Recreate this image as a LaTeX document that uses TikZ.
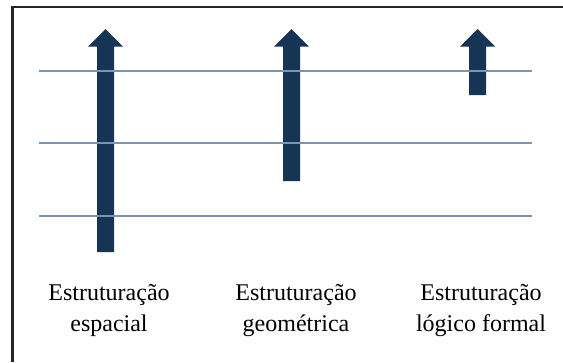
\documentclass[tikz,border=0pt]{standalone}
\usepackage{fontspec}
\setmainfont{Liberation Serif}
\usepackage{tikz}
\usetikzlibrary{positioning}

\definecolor{arrowblue}{RGB}{22,52,84}
\definecolor{lineblue}{RGB}{118,150,182}

\tikzset{
  bigarrow/.style={fill=arrowblue},
  levelline/.style={draw=lineblue,line width=2pt},
  frameline/.style={draw=black!85,line width=2.2pt},
  caption/.style={align=center,font=\fontsize{24}{31}\selectfont,anchor=base,inner sep=0pt}
}

\begin{document}
\begin{tikzpicture}[x=1pt,y=-1pt]
  \useasboundingbox (0,0) rectangle (563,362);

  % Frame (top and left only)
  \draw[frameline] (12.5,362) -- (12.5,7) -- (563,7);

  % Block arrows: centre x / bottom y
  \foreach \cx/\by in {105.5/252, 291.5/181, 477.5/95}{
    \fill[bigarrow] (\cx-8.5,\by) -- (\cx-8.5,46.5) -- (\cx-17.5,46.5)
      -- (\cx,29) -- (\cx+17.5,46.5) -- (\cx+8.5,46.5) -- (\cx+8.5,\by) -- cycle;
  }

  % Level lines
  \coordinate (l1w) at (39,71);   \coordinate (l1e) at (532,71);
  \coordinate (l2w) at (39,143);  \coordinate (l2e) at (532,143);
  \coordinate (l3w) at (39,216);  \coordinate (l3e) at (532,216);
  \draw[levelline] (l1w) -- (l1e);
  \draw[levelline] (l2w) -- (l2e);
  \draw[levelline] (l3w) -- (l3e);

  % Captions (base = baseline of last line)
  \node[caption] (espacial) at (109,331) {Estruturação\\espacial};
  \node[caption] (geometrica) at (296,331) {Estruturação\\geométrica};
  \node[caption] (logico) at (481,331) {Estruturação\\lógico formal};
\end{tikzpicture}
\end{document}
